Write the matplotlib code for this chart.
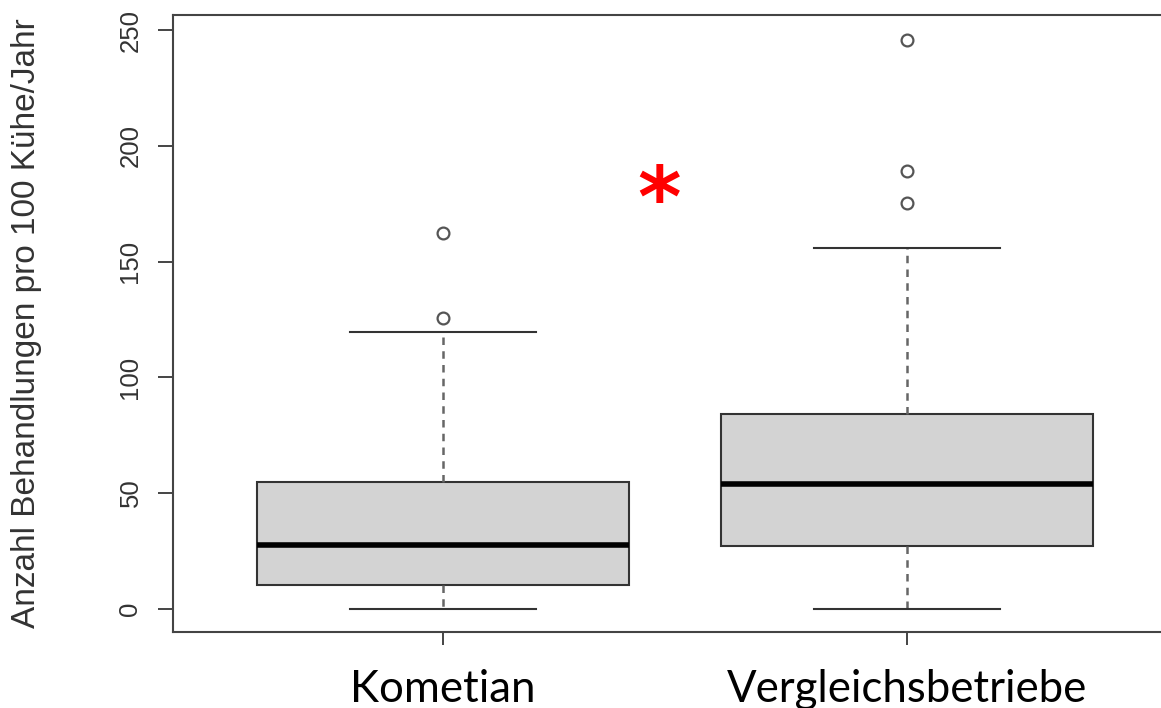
import numpy as np
import matplotlib.pyplot as plt

# Boxplot-Kennwerte
groups = ['Kometian', 'Vergleichsbetriebe']
whisker_low = [0, 0]
q1 = [10.4, 27.2]
median = [27.7, 54.0]
q3 = [55.0, 84.0]
whisker_high = [119.5, 156.0]
outliers = [[125.5, 162.5], [175.5, 189.0, 245.5]]
y_ticks = [0, 50, 100, 150, 200, 250]

fig = plt.figure(figsize=(11.61, 7.08), dpi=100)
ax = fig.add_axes([0.149, 0.1073, 0.8648, 0.8715])

stats = []
for i, g in enumerate(groups):
    stats.append(dict(label=g, whislo=whisker_low[i], q1=q1[i], med=median[i],
                      q3=q3[i], whishi=whisker_high[i], fliers=outliers[i]))

ax.bxp(stats, positions=[1, 2], widths=0.8, capwidths=0.4, patch_artist=True,
       boxprops=dict(facecolor='#d3d3d3', edgecolor='#333333', linewidth=1.5),
       medianprops=dict(color='black', linewidth=4, solid_capstyle='butt'),
       whiskerprops=dict(color='#666666', linewidth=1.8, linestyle=(0, (3, 2.5))),
       capprops=dict(color='#333333', linewidth=1.5),
       flierprops=dict(marker='o', markersize=8.5, markerfacecolor='none',
                       markeredgecolor='#555555', markeredgewidth=1.6))

ax.set_xlim(0.42, 2.58)
ax.set_ylim(-10, 256.5)

for side in ['left', 'bottom', 'top']:
    ax.spines[side].set_color('#444444')
    ax.spines[side].set_linewidth(1.5)
ax.spines['right'].set_visible(False)

ax.set_yticks(y_ticks)
ax.set_yticklabels([str(v) for v in y_ticks], rotation=90, va='center',
                   family='Liberation Sans')
ax.tick_params(axis='y', length=11, width=1.4, pad=11, labelsize=18.5,
               labelcolor='#333333', color='#444444')

ax.set_xticks([1, 2])
ax.set_xticklabels(groups, family='Lato', fontsize=31.5)
ax.tick_params(axis='x', length=9.4, width=1.4, pad=17, color='#444444')

ax.set_ylabel('Anzahl Behandlungen pro 100 Kühe/Jahr', family='Liberation Sans',
              fontsize=24, color='#333333')
ax.yaxis.set_label_coords(-0.1305, 0.5)

# Signifikanz-Stern
ax.text(1.465, 175.5, '*', color='red', fontsize=60, fontweight='bold',
        ha='center', va='center')

fig.savefig('out.png', dpi=100)
